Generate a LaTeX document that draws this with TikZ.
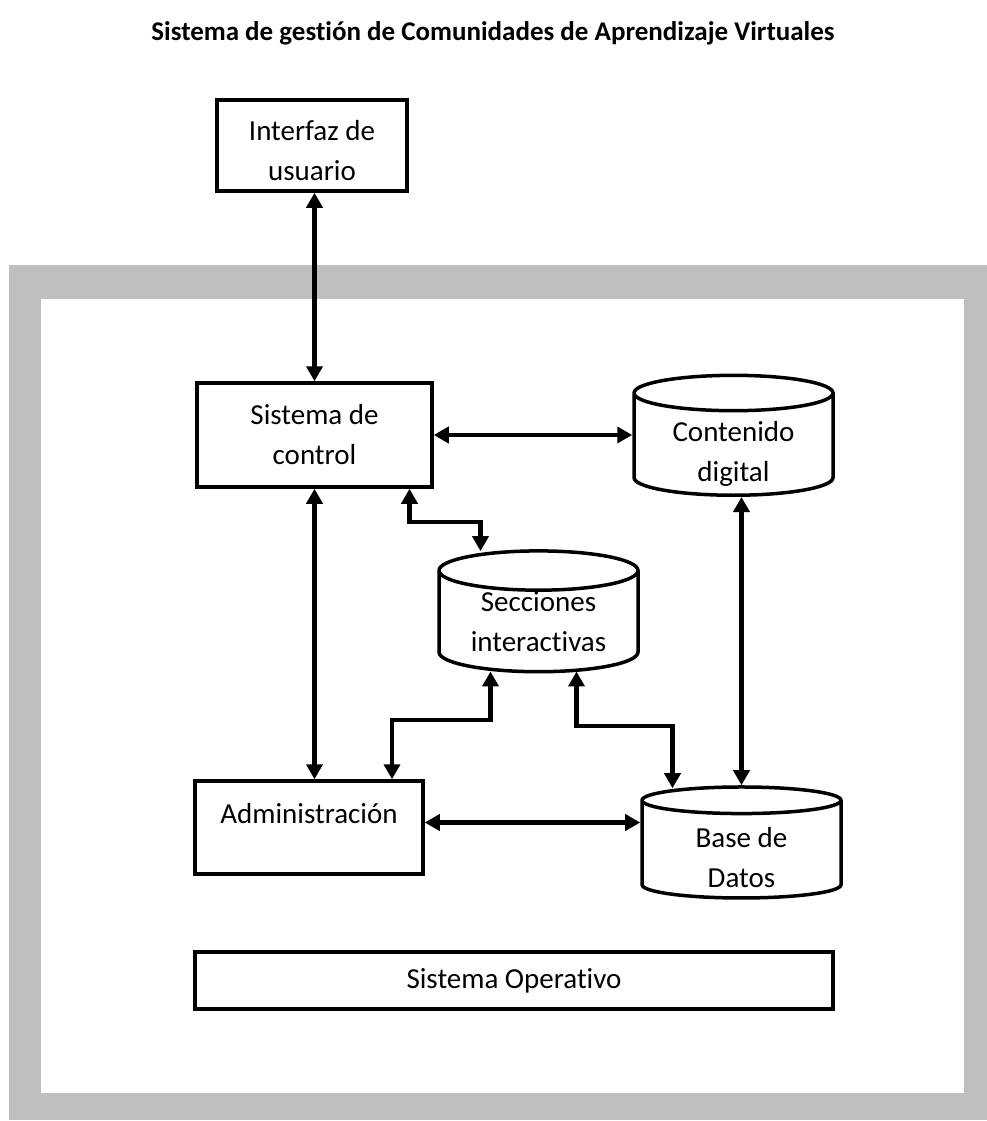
\documentclass[tikz,border=0pt]{standalone}
\usepackage{fontspec}
\setmainfont{Carlito}[Ligatures=NoCommon]
\usepackage{xcolor}
\usetikzlibrary{positioning,arrows.meta,shapes.geometric,calc}
\definecolor{FrameGray}{RGB}{191,191,191}

\begin{document}
\begin{tikzpicture}[x=1pt, y=-1pt,
    font=\fontsize{29}{40}\selectfont,
    blk/.style={rectangle, draw=black, line width=3.5pt, inner sep=0pt, align=center},
    cyl/.style={cylinder, shape border rotate=90, draw=black, line width=3.5pt,
                aspect=0.29, inner sep=0pt, align=center,
                minimum width=199pt, minimum height=109pt},
    cyltxt/.style={align=center, inner sep=0pt},
    da/.style={{Triangle[length=15pt,width=16pt]}-{Triangle[length=15pt,width=16pt]}, line width=4.5pt}
]
    \useasboundingbox (0,0) rectangle (987,1121);
    % grey frame
    \fill[FrameGray] (9,265) rectangle (987,1120);
    \fill[white] (41,299) rectangle (964,1093);

    \node[font=\fontsize{27}{32}\selectfont\bfseries] (title) at (493,33)
        {Sistema de gestión de Comunidades de Aprendizaje Virtuales};

    \node[blk, minimum width=190pt, minimum height=91pt] (iu) at (312,145.5) {\rule{0pt}{31pt}Interfaz de\\ usuario};
    \node[blk, minimum width=235pt, minimum height=104pt] (sc) at (314.5,435) {Sistema de\\ control};
    \node[cyl, label={[cyltxt, yshift=-9pt]center:{Contenido\\ digital}}] (cd) at (733.5,445)
        {\phantom{Contenido}\\ \phantom{digital}};
    \node[cyl] (si) at (538.5,622) {Secciones\\ interactivas};
    \node[blk, minimum width=228pt, minimum height=93pt] (adm) at (309,827.5) {Administración\\[-12pt] \mbox{}};
    \node[cyl, minimum height=111pt, label={[cyltxt, yshift=-8pt]center:{Base de\\ Datos}}] (bd) at (741.5,850)
        {\phantom{Base de}\\ \phantom{Datos}};
    \node[blk, minimum width=638pt, minimum height=57pt] (so) at (514,980.5) {Sistema Operativo};

    % bends
    \coordinate (b1) at (445,522);
    \coordinate (b2) at (441,720);
    \coordinate (b3) at (625,726);

    \draw[da] (iu.south -| sc.north) -- (sc.north);
    \draw[da] (sc.east) -- (sc.east -| cd.west);
    \draw[da] (sc.south) -- (sc.south |- adm.north);
    \draw[da] ([xshift=95pt]sc.south) |- (b1) -| ([xshift=-58pt,yshift=-2pt]si.north);
    \draw[da] ([xshift=-48pt,yshift=2pt]si.south) |- (b2) -| ([xshift=83pt]adm.north);
    \draw[da] ([xshift=38pt,yshift=2pt]si.south) |- (b3) -| ([xshift=-69pt,yshift=-3pt]bd.north);
    \draw[da] (cd.south -| bd.north) -- (bd.north);
    \draw[da] ([yshift=5pt]adm.east) -- ([yshift=5pt]adm.east -| bd.west);
\end{tikzpicture}
\end{document}
